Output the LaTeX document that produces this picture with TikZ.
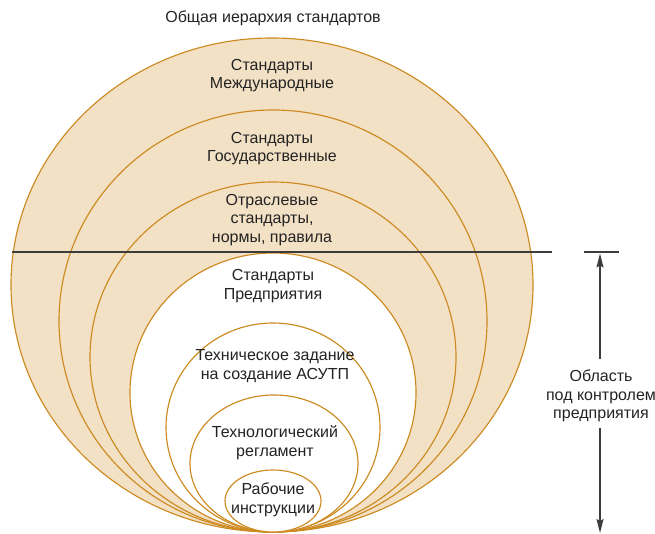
\documentclass[tikz,border=0pt]{standalone}
\usepackage{fontspec}
\setmainfont{Liberation Sans}
\usetikzlibrary{arrows.meta}
\definecolor{ringfill}{RGB}{243,225,198}
\definecolor{ringline}{RGB}{204,138,32}
\definecolor{txt}{RGB}{35,35,35}
\definecolor{rule}{RGB}{60,60,60}
\begin{document}
\begin{tikzpicture}[x=1pt,y=-1pt,
  ring/.style={draw=ringline,line width=1.15pt,fill=ringfill},
  wring/.style={draw=ringline,line width=1.15pt,fill=white},
  lbl/.style={text=txt,align=center,inner sep=0pt,font=\fontsize{16}{18.5}\selectfont},
  rulestyle/.style={draw=rule,line width=1.3pt},
  arr/.style={draw=rule,line width=1.3pt,-{Stealth[length=14pt,width=7pt,inset=2pt]}}
]
\useasboundingbox (0,0) rectangle (655,534);
% nested ellipses, all touching at the bottom point
\path[ring]  (272,285)   ellipse [x radius=261pt, y radius=247pt];
\path[ring]  (273,321)   ellipse [x radius=214pt, y radius=211pt];
\path[ring]  (273,357)   ellipse [x radius=183pt, y radius=175pt];
\path[wring] (273,392.5) ellipse [x radius=143pt, y radius=139.5pt];
\path[wring] (273,427.5) ellipse [x radius=107pt, y radius=104.5pt];
\path[wring] (274,463.5) ellipse [x radius=84pt, y radius=68.5pt];
\path[wring] (273,501)   ellipse [x radius=48pt, y radius=31pt];
% labels
\node[lbl] (title) at (273,18) {Общая иерархия стандартов};
\node[lbl] (intl) at (272,75.5) {Стандарты\\Международные};
\node[lbl] (state) at (272,148.5) {Стандарты\\Государственные};
\node[lbl] (branch) at (272,220) {Отраслевые\\стандарты,\\нормы, правила};
\node[lbl] (ent) at (273,286) {Стандарты\\Предприятия};
\node[lbl] (tz) at (275,366) {Техническое задание\\на создание АСУТП};
\node[lbl] (reg) at (275,442.5) {Технологический\\регламент};
\node[lbl] (work) at (273,500) {Рабочие\\инструкции};
\node[lbl] (ctrl) at (601,396) {Область\\под контролем\\предприятия};
% horizontal rules
\coordinate (rl) at (12,252);
\coordinate (rr) at (552,252);
\coordinate (sl) at (584,252);
\coordinate (sr) at (619,252);
\draw[rulestyle] (rl) -- (rr);
\draw[rulestyle] (sl) -- (sr);
% arrows
\coordinate (aus) at (600,359);
\coordinate (aue) at (600,253.5);
\coordinate (ads) at (600,428);
\coordinate (ade) at (600,533);
\draw[arr] (aus) -- (aue);
\draw[arr] (ads) -- (ade);
\end{tikzpicture}
\end{document}
